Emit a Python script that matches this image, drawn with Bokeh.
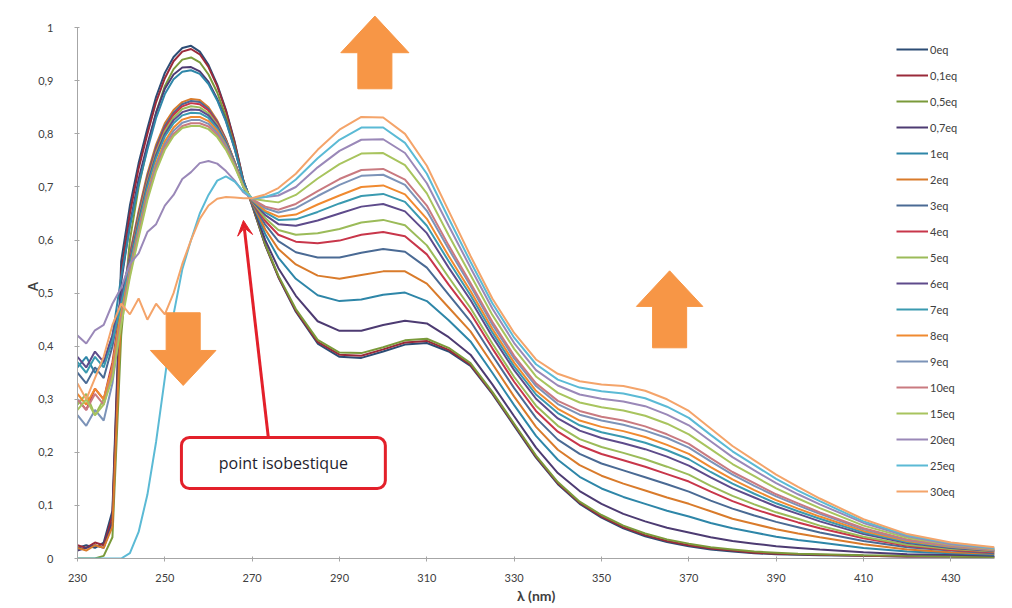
from bokeh.plotting import figure
from bokeh.models import (FixedTicker, CustomJSTickFormatter, Legend, LegendItem, Label,
                          Arrow, VeeHead, BoxAnnotation, Range1d, ColumnDataSource)
from bokeh.embed import file_html
from bokeh.resources import INLINE

# ---------------- data ----------------
wavelength = [230, 232, 234, 236, 238, 240, 242, 244, 246, 248, 250, 252, 254, 256, 258, 260,
              262, 264, 266, 268, 270,
              273, 276, 280, 285, 290, 295, 300, 305, 310, 315, 320, 325, 330, 335, 340, 345,
              350, 355, 360, 365, 370, 375, 380, 385, 390, 395, 400, 410, 420, 430, 440]

series_names = ["0eq", "0,1eq", "0,5eq", "0,7eq", "1eq", "2eq", "3eq", "4eq", "5eq", "6eq",
                "7eq", "8eq", "9eq", "10eq", "15eq", "20eq", "25eq", "30eq"]

a_0eq = [0.02, 0.025, 0.02, 0.03, 0.09, 0.56, 0.665, 0.745, 0.81, 0.87, 0.915, 0.945, 0.962, 0.966, 0.955, 0.93, 0.893, 0.845, 0.785, 0.712, 0.665,
         0.590, 0.530, 0.465, 0.405, 0.380, 0.378, 0.390, 0.403, 0.406, 0.390, 0.363, 0.310, 0.250, 0.190, 0.140, 0.103, 0.077, 0.057, 0.042, 0.031, 0.023, 0.017, 0.013, 0.010, 0.008, 0.007, 0.006, 0.005, 0.004, 0.004, 0.003]
a_01eq = [0.025, 0.02, 0.03, 0.025, 0.08, 0.54, 0.65, 0.735, 0.80, 0.86, 0.905, 0.937, 0.955, 0.96, 0.95, 0.926, 0.89, 0.843, 0.783, 0.712, 0.666,
          0.591, 0.531, 0.467, 0.408, 0.384, 0.382, 0.394, 0.407, 0.410, 0.393, 0.365, 0.312, 0.252, 0.192, 0.142, 0.105, 0.079, 0.059, 0.044, 0.033, 0.025, 0.019, 0.015, 0.011, 0.009, 0.008, 0.007, 0.005, 0.004, 0.004, 0.003]
a_05eq = [0.0, 0.0, 0.0, 0.005, 0.04, 0.42, 0.60, 0.70, 0.775, 0.84, 0.89, 0.922, 0.94, 0.944, 0.935, 0.912, 0.878, 0.832, 0.776, 0.71, 0.667,
          0.592, 0.533, 0.470, 0.412, 0.388, 0.387, 0.398, 0.411, 0.414, 0.397, 0.368, 0.314, 0.254, 0.194, 0.144, 0.107, 0.082, 0.062, 0.047, 0.036, 0.028, 0.021, 0.017, 0.013, 0.011, 0.009, 0.008, 0.006, 0.005, 0.004, 0.003]
a_07eq = [0.015, 0.02, 0.025, 0.02, 0.07, 0.52, 0.63, 0.715, 0.78, 0.84, 0.885, 0.912, 0.925, 0.926, 0.918, 0.898, 0.866, 0.825, 0.772, 0.71, 0.668,
          0.600, 0.547, 0.495, 0.447, 0.429, 0.429, 0.440, 0.448, 0.443, 0.417, 0.384, 0.328, 0.268, 0.209, 0.161, 0.127, 0.103, 0.084, 0.070, 0.058, 0.049, 0.040, 0.033, 0.028, 0.023, 0.020, 0.017, 0.012, 0.008, 0.007, 0.005]
a_1eq = [0.36, 0.38, 0.35, 0.37, 0.42, 0.53, 0.625, 0.705, 0.77, 0.83, 0.875, 0.903, 0.917, 0.92, 0.913, 0.894, 0.863, 0.823, 0.771, 0.71, 0.669,
         0.611, 0.567, 0.527, 0.496, 0.485, 0.488, 0.497, 0.501, 0.485, 0.449, 0.409, 0.350, 0.289, 0.231, 0.186, 0.154, 0.132, 0.116, 0.103, 0.090, 0.079, 0.067, 0.057, 0.049, 0.041, 0.035, 0.030, 0.020, 0.013, 0.010, 0.007]
a_2eq = [0.02, 0.015, 0.025, 0.02, 0.06, 0.47, 0.575, 0.655, 0.725, 0.78, 0.82, 0.845, 0.86, 0.866, 0.864, 0.85, 0.825, 0.79, 0.747, 0.70, 0.670,
         0.620, 0.583, 0.554, 0.533, 0.527, 0.534, 0.541, 0.541, 0.518, 0.473, 0.428, 0.367, 0.305, 0.248, 0.205, 0.176, 0.156, 0.141, 0.128, 0.115, 0.103, 0.089, 0.075, 0.065, 0.055, 0.047, 0.040, 0.027, 0.017, 0.012, 0.009]
a_3eq = [0.35, 0.33, 0.36, 0.34, 0.40, 0.49, 0.57, 0.65, 0.72, 0.775, 0.815, 0.84, 0.856, 0.862, 0.86, 0.847, 0.823, 0.789, 0.747, 0.70, 0.671,
         0.629, 0.598, 0.577, 0.567, 0.567, 0.576, 0.583, 0.578, 0.548, 0.497, 0.447, 0.383, 0.321, 0.265, 0.224, 0.197, 0.179, 0.166, 0.153, 0.140, 0.126, 0.109, 0.094, 0.081, 0.069, 0.059, 0.049, 0.033, 0.021, 0.015, 0.010]
a_4eq = [0.30, 0.28, 0.32, 0.30, 0.37, 0.48, 0.565, 0.645, 0.715, 0.77, 0.81, 0.836, 0.852, 0.858, 0.856, 0.844, 0.821, 0.788, 0.747, 0.701, 0.672,
         0.636, 0.610, 0.597, 0.594, 0.599, 0.610, 0.615, 0.607, 0.573, 0.516, 0.462, 0.396, 0.333, 0.278, 0.239, 0.213, 0.197, 0.185, 0.173, 0.159, 0.145, 0.126, 0.108, 0.093, 0.080, 0.068, 0.057, 0.038, 0.024, 0.016, 0.012]
a_5eq = [0.29, 0.31, 0.27, 0.30, 0.36, 0.47, 0.56, 0.64, 0.71, 0.765, 0.805, 0.831, 0.847, 0.852, 0.85, 0.839, 0.817, 0.786, 0.746, 0.701, 0.673,
         0.641, 0.619, 0.610, 0.613, 0.621, 0.633, 0.638, 0.628, 0.590, 0.530, 0.472, 0.405, 0.342, 0.288, 0.250, 0.225, 0.210, 0.199, 0.187, 0.173, 0.158, 0.137, 0.118, 0.102, 0.087, 0.075, 0.062, 0.041, 0.026, 0.018, 0.013]
a_6eq = [0.38, 0.36, 0.39, 0.37, 0.42, 0.49, 0.56, 0.635, 0.705, 0.76, 0.80, 0.826, 0.841, 0.846, 0.845, 0.835, 0.814, 0.784, 0.745, 0.701, 0.674,
         0.647, 0.630, 0.627, 0.637, 0.650, 0.663, 0.668, 0.654, 0.613, 0.548, 0.487, 0.418, 0.355, 0.301, 0.264, 0.241, 0.227, 0.217, 0.206, 0.192, 0.175, 0.153, 0.132, 0.115, 0.098, 0.084, 0.070, 0.046, 0.029, 0.020, 0.014]
a_7eq = [0.37, 0.35, 0.38, 0.36, 0.41, 0.48, 0.555, 0.63, 0.70, 0.755, 0.795, 0.82, 0.835, 0.84, 0.839, 0.83, 0.81, 0.781, 0.744, 0.701, 0.675,
         0.652, 0.638, 0.639, 0.653, 0.669, 0.683, 0.687, 0.672, 0.627, 0.560, 0.496, 0.426, 0.362, 0.309, 0.274, 0.251, 0.238, 0.229, 0.218, 0.204, 0.187, 0.163, 0.141, 0.122, 0.104, 0.089, 0.075, 0.049, 0.031, 0.021, 0.015]
a_8eq = [0.31, 0.29, 0.32, 0.30, 0.36, 0.46, 0.545, 0.62, 0.69, 0.745, 0.786, 0.812, 0.827, 0.832, 0.832, 0.824, 0.806, 0.778, 0.742, 0.701, 0.676,
         0.655, 0.644, 0.648, 0.667, 0.684, 0.700, 0.703, 0.686, 0.640, 0.570, 0.504, 0.433, 0.369, 0.316, 0.282, 0.260, 0.248, 0.240, 0.229, 0.214, 0.197, 0.172, 0.149, 0.129, 0.110, 0.094, 0.079, 0.052, 0.033, 0.022, 0.015]
a_9eq = [0.27, 0.25, 0.28, 0.26, 0.33, 0.45, 0.54, 0.615, 0.685, 0.74, 0.78, 0.806, 0.821, 0.826, 0.826, 0.819, 0.802, 0.776, 0.741, 0.701, 0.677,
         0.660, 0.652, 0.660, 0.683, 0.704, 0.721, 0.723, 0.704, 0.655, 0.583, 0.514, 0.441, 0.377, 0.325, 0.291, 0.271, 0.260, 0.252, 0.241, 0.227, 0.209, 0.183, 0.158, 0.137, 0.117, 0.100, 0.084, 0.055, 0.035, 0.023, 0.016]
a_10eq = [0.30, 0.28, 0.31, 0.29, 0.35, 0.45, 0.535, 0.61, 0.68, 0.735, 0.775, 0.80, 0.815, 0.82, 0.82, 0.814, 0.798, 0.773, 0.74, 0.701, 0.677,
          0.663, 0.657, 0.668, 0.692, 0.715, 0.732, 0.734, 0.714, 0.665, 0.590, 0.519, 0.446, 0.382, 0.330, 0.297, 0.278, 0.267, 0.260, 0.249, 0.234, 0.216, 0.189, 0.163, 0.142, 0.121, 0.104, 0.087, 0.057, 0.036, 0.024, 0.017]
a_15eq = [0.28, 0.30, 0.27, 0.29, 0.34, 0.44, 0.53, 0.605, 0.675, 0.73, 0.77, 0.796, 0.811, 0.815, 0.815, 0.809, 0.794, 0.77, 0.738, 0.70, 0.678,
          0.674, 0.671, 0.685, 0.716, 0.743, 0.763, 0.764, 0.741, 0.688, 0.609, 0.534, 0.459, 0.395, 0.343, 0.312, 0.294, 0.285, 0.279, 0.269, 0.254, 0.234, 0.206, 0.178, 0.155, 0.132, 0.113, 0.095, 0.062, 0.039, 0.026, 0.018]
a_20eq = [0.42, 0.405, 0.43, 0.44, 0.48, 0.51, 0.555, 0.575, 0.615, 0.63, 0.665, 0.685, 0.715, 0.728, 0.745, 0.749, 0.744, 0.73, 0.712, 0.69, 0.678,
          0.681, 0.684, 0.700, 0.737, 0.768, 0.789, 0.790, 0.764, 0.707, 0.627, 0.548, 0.471, 0.406, 0.355, 0.326, 0.309, 0.301, 0.296, 0.287, 0.271, 0.251, 0.221, 0.191, 0.166, 0.142, 0.121, 0.102, 0.067, 0.042, 0.027, 0.019]
a_25eq = [0.0, 0.0, 0.0, 0.0, 0.0, 0.0, 0.01, 0.05, 0.12, 0.22, 0.34, 0.46, 0.545, 0.60, 0.65, 0.685, 0.712, 0.72, 0.71, 0.692, 0.679,
          0.681, 0.689, 0.714, 0.754, 0.789, 0.812, 0.812, 0.783, 0.725, 0.641, 0.559, 0.481, 0.416, 0.366, 0.337, 0.322, 0.315, 0.311, 0.302, 0.286, 0.265, 0.233, 0.202, 0.176, 0.150, 0.128, 0.108, 0.070, 0.044, 0.029, 0.020]
a_30eq = [0.33, 0.30, 0.34, 0.38, 0.44, 0.48, 0.46, 0.49, 0.45, 0.48, 0.46, 0.50, 0.555, 0.60, 0.64, 0.665, 0.678, 0.681, 0.68, 0.679, 0.679,
          0.686, 0.698, 0.725, 0.770, 0.808, 0.832, 0.831, 0.800, 0.740, 0.655, 0.570, 0.490, 0.425, 0.375, 0.348, 0.334, 0.328, 0.325, 0.316, 0.300, 0.278, 0.245, 0.212, 0.185, 0.158, 0.135, 0.113, 0.074, 0.046, 0.030, 0.021]

series_values = [a_0eq, a_01eq, a_05eq, a_07eq, a_1eq, a_2eq, a_3eq, a_4eq, a_5eq, a_6eq,
                 a_7eq, a_8eq, a_9eq, a_10eq, a_15eq, a_20eq, a_25eq, a_30eq]

series_colors = ["#2C4D75", "#9A2A3A", "#7A9A3A", "#4D3B72", "#2E86A8", "#D97B2B",
                 "#4A6A94", "#C8364A", "#9BBB59", "#5E4B8B", "#3A9AB0", "#F08A30",
                 "#7C93B8", "#C97A80", "#A8C45E", "#9A88B8", "#5BBAD5", "#F4A46A"]

x_ticks = [230, 250, 270, 290, 310, 330, 350, 370, 390, 410, 430]
y_ticks = [0, 0.1, 0.2, 0.3, 0.4, 0.5, 0.6, 0.7, 0.8, 0.9, 1.0]

FONT = "Lato"

# ---------------- figure ----------------
p = figure(frame_width=917, frame_height=544,
           x_range=Range1d(230, 440), y_range=Range1d(0, 1.025),
           output_backend="svg", toolbar_location=None,
           min_border_left=77, min_border_right=10, min_border_top=14, min_border_bottom=49)
p.background_fill_color = "white"
p.border_fill_color = "white"
p.outline_line_color = None
p.grid.visible = False

items = []
for name, vals, col in zip(series_names, series_values, series_colors):
    src = ColumnDataSource(dict(x=wavelength, y=vals))
    r = p.line("x", "y", source=src, line_color=col, line_width=2)
    items.append(LegendItem(label=name, renderers=[r]))

# axes
p.xaxis.ticker = FixedTicker(ticks=x_ticks)
p.yaxis.ticker = FixedTicker(ticks=y_ticks)
p.yaxis.formatter = CustomJSTickFormatter(code="""
    if (Math.abs(tick) < 1e-9) return "0";
    if (Math.abs(tick - 1) < 1e-9) return "1";
    return tick.toFixed(1).replace(".", ",");
""")
p.yaxis.bounds = (0, 1)
for ax in (p.xaxis[0], p.yaxis[0]):
    ax.axis_line_color = "#A6A6A6"
    ax.major_tick_line_color = "#A6A6A6"
    ax.minor_tick_line_color = None
    ax.major_tick_in = 2
    ax.major_tick_out = 3
    ax.major_label_text_font = FONT
    ax.major_label_text_font_size = "11px"
    ax.major_label_text_color = "#404040"
p.xaxis.major_label_standoff = 12
p.yaxis.major_label_standoff = 21
p.yaxis.axis_label = "A"
p.yaxis.axis_label_text_font = FONT
p.yaxis.axis_label_text_font_size = "13px"
p.yaxis.axis_label_text_font_style = "bold"
p.yaxis.axis_label_text_color = "#404040"
p.yaxis.axis_label_standoff = -6
p.xaxis.axis_label = "λ (nm)"
p.xaxis.axis_label_text_font = FONT
p.xaxis.axis_label_text_font_size = "14px"
p.xaxis.axis_label_text_font_style = "bold"
p.xaxis.axis_label_text_color = "#404040"
p.xaxis.axis_label_standoff = 2

# legend
legend = Legend(items=items, location=(819, 59), orientation="vertical",
                glyph_width=32, glyph_height=16, label_height=16, spacing=10,
                label_standoff=2, padding=0, margin=0,
                label_text_font=FONT, label_text_font_size="11px",
                label_text_color="#404040",
                background_fill_alpha=0, border_line_color=None)
p.add_layout(legend)

# orange block arrows
ARROW_COLOR = "#F79646"

def block_arrow(xc, y_tail, y_head_base, y_tip, shaft_half, head_half):
    xs = [xc - shaft_half, xc - shaft_half, xc - head_half, xc, xc + head_half,
          xc + shaft_half, xc + shaft_half]
    ys = [y_tail, y_head_base, y_head_base, y_tip, y_head_base, y_head_base, y_tail]
    return xs, ys

for spec in [(298.1, 0.885, 0.953, 1.022, 3.9, 7.8),
             (365.6, 0.397, 0.475, 0.542, 3.9, 7.6),
             (254.2, 0.463, 0.392, 0.326, 3.9, 7.5)]:
    xs, ys = block_arrow(*spec)
    p.patch(xs, ys, fill_color=ARROW_COLOR, line_color=ARROW_COLOR, line_width=1)

# red arrow and text box
RED = "#E3202A"
p.add_layout(Arrow(end=VeeHead(size=15, fill_color=RED, line_color=RED),
                   x_start=273.7, y_start=0.228, x_end=268.0, y_end=0.637,
                   line_color=RED, line_width=3))
p.add_layout(BoxAnnotation(left=253.8, right=300.5, bottom=0.132, top=0.228,
                           fill_color="white", fill_alpha=1.0,
                           line_color=RED, line_width=3, line_alpha=1.0,
                           border_radius=8))
p.add_layout(Label(x=277.15, y=0.18, text="point isobestique", text_align="center",
                   text_baseline="middle", text_font="Open Sans", text_font_size="16px",
                   text_color="#1E1E2E"))

open("out.html", "w").write(file_html(p, INLINE))
